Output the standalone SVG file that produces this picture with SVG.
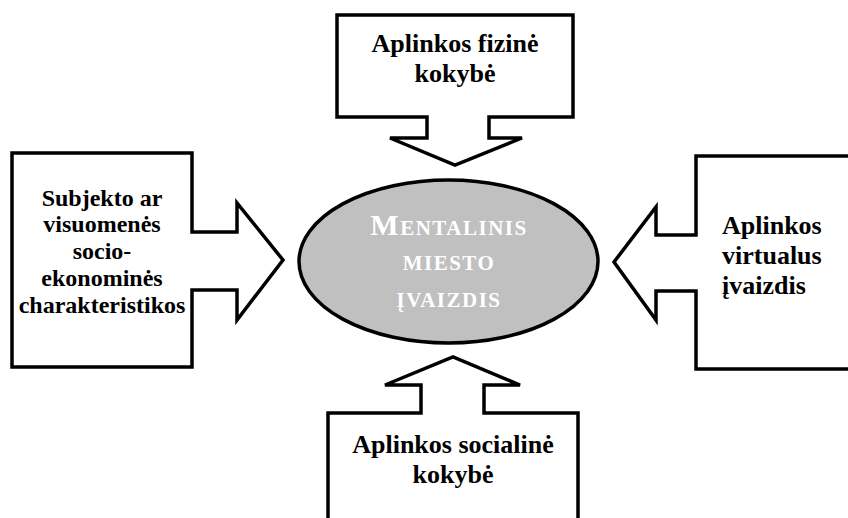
<svg xmlns="http://www.w3.org/2000/svg" width="848" height="518" viewBox="0 0 848 518">
<style>
.shape{fill:#fff;stroke:#000;stroke-width:3.5;stroke-linejoin:miter}
.t{font-family:"Liberation Serif","Times New Roman",serif;font-weight:bold;fill:#000}
.c{text-anchor:middle}
.big{font-size:26px}
.mid{font-size:24px}
.e{font-family:"Liberation Serif","Times New Roman",serif;font-weight:bold;fill:#fff;text-anchor:middle;font-size:21px;letter-spacing:1.5px}
</style>
<rect width="848" height="518" fill="#fff"/>
<g id="connectors"></g>
<g id="node-top">
<path class="shape" d="M337,15 H573 V117 H489 V138 H522 L455,165 L390,138 H427 V117 H337 Z"/>
<text class="t c big" x="455" y="52">Aplinkos fizinė</text>
<text class="t c big" x="455" y="82">kokybė</text>
</g>
<g id="node-left">
<path class="shape" d="M12,153 H192 V232 H237 V203 L283,260 L237,320 V290 H192 V367 H12 Z"/>
<text class="t c mid" x="102" y="206">Subjekto ar</text>
<text class="t c mid" x="102" y="232">visuomenės</text>
<text class="t c mid" x="102" y="259">socio-</text>
<text class="t c mid" x="102" y="286">ekonominės</text>
<text class="t c mid" x="102" y="313">charakteristikos</text>
</g>
<g id="node-right">
<path class="shape" d="M696,156 H862 V369 H696 V291 H656 V320 L614,262 L656,207 V235 H696 Z"/>
<text class="t big" x="722" y="234">Aplinkos</text>
<text class="t big" x="722" y="264">virtualus</text>
<text class="t big" x="722" y="294">įvaizdis</text>
</g>
<g id="node-bottom">
<path class="shape" d="M328,413 H421 V385 H385 L453,357 L520,385 H484 V413 H578 V530 H328 Z"/>
<text class="t c big" x="453" y="453">Aplinkos socialinė</text>
<text class="t c big" x="453" y="483">kokybė</text>
</g>
<g id="node-center">
<ellipse cx="448.5" cy="261.5" rx="149.5" ry="81.5" fill="#c0c0c0" stroke="#000" stroke-width="3.5"/>
<text class="e" x="449" y="235"><tspan font-size="30px">M</tspan>ENTALINIS</text>
<text class="e" x="449" y="270">MIESTO</text>
<text class="e" x="449" y="307">ĮVAIZDIS</text>
</g>
</svg>
